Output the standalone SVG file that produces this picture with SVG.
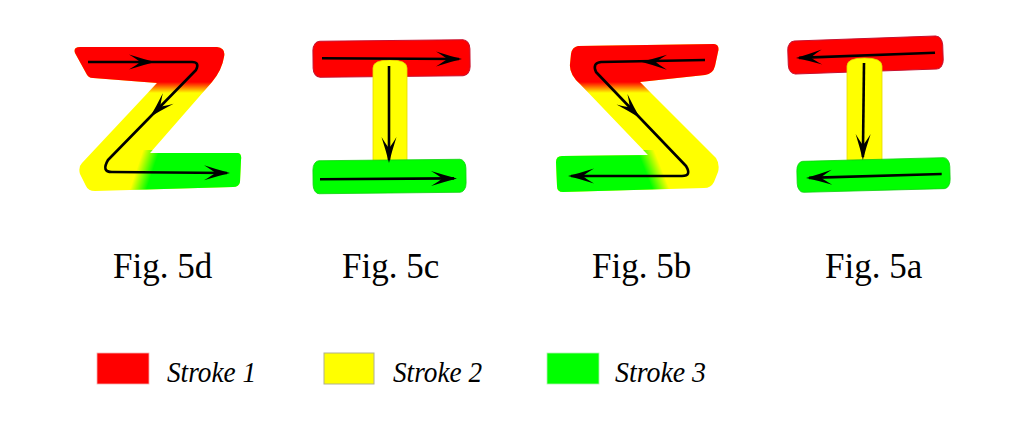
<svg xmlns="http://www.w3.org/2000/svg" xmlns:xlink="http://www.w3.org/1999/xlink" width="1024" height="429" viewBox="0 0 1024 429">
<style>
.fig{font-family:"Liberation Serif","Times New Roman",serif;font-size:35px;fill:#000}
.leg{font-family:"Liberation Serif","Times New Roman",serif;font-size:30px;font-style:italic;fill:#000}
.arr{fill:none;stroke:#000;stroke-width:2.6;stroke-linejoin:round;marker-end:url(#ah)}
.red{fill:#ff0000;stroke:#c8102e;stroke-width:1}
.yel{fill:#ffff00;stroke:#e6d800;stroke-width:0.8}
.grn{fill:#00ff00;stroke:#10d010;stroke-width:0.8}
</style>
<defs>
<path id="head" d="M0,0 Q-12,-3 -26,-7.5 Q-17,-2 -15,0 Q-17,2 -26,7.5 Q-12,3 0,0 Z" fill="#000"/>
<marker id="ah" markerUnits="userSpaceOnUse" viewBox="-30 -10 40 20" refX="-3" refY="0" markerWidth="40" markerHeight="20" orient="auto" overflow="visible">
<use href="#head"/>
</marker>
<clipPath id="clipZ">
<path d="M80,47 L217,47 Q226,48 224,57 Q222,70 212,82 L150,153 L238,153 Q242,154 241,160 L240,182 Q239,187 233,187 L95,191 Q88,191 86,186 L80,174 Q78,167 82,163 L157,83 L93,78 Q88,78 86,73 L75,53 Q73,47 80,47 Z"/>
</clipPath>
<clipPath id="clipS">
<path d="M578,46 L714,44 Q720,45 718,52 L715,66 Q713,74 705,75 L640,82 L716,158 Q720,164 718,172 L714,182 Q711,188 704,188 L563,192 Q557,192 557,186 L556,162 Q556,156 562,156 L648,155 L580,84 Q569,74 570,64 L571,54 Q572,47 578,46 Z"/>
</clipPath>
<linearGradient id="redFade" gradientUnits="userSpaceOnUse" x1="0" y1="82" x2="0" y2="93">
<stop offset="0" stop-color="#ff0000" stop-opacity="1"/>
<stop offset="1" stop-color="#ff0000" stop-opacity="0"/>
</linearGradient>
<linearGradient id="greenD" gradientUnits="userSpaceOnUse" x1="137" y1="168" x2="152" y2="173">
<stop offset="0" stop-color="#00ff00" stop-opacity="0"/>
<stop offset="1" stop-color="#00ff00" stop-opacity="1"/>
</linearGradient>
<linearGradient id="greenB" gradientUnits="userSpaceOnUse" x1="661" y1="167" x2="646" y2="173">
<stop offset="0" stop-color="#00ff00" stop-opacity="0"/>
<stop offset="1" stop-color="#00ff00" stop-opacity="1"/>
</linearGradient>
</defs>
<rect width="1024" height="429" fill="#fff"/>

<g id="fig5d" clip-path="url(#clipZ)">
<rect x="60" y="40" width="200" height="160" fill="#ffff00"/>
<rect x="60" y="40" width="200" height="60" fill="url(#redFade)"/>
<rect x="60" y="150" width="200" height="50" fill="url(#greenD)"/>
</g>

<g id="fig5c">
<rect x="313" y="40.5" width="157" height="36" rx="7" ry="9" class="red" transform="rotate(-0.6 391 58)"/>
<path d="M373,163 L373,68 Q373,60 390,60 Q407,60 407,68 L407,163 Z" class="yel"/>
<rect x="313" y="160" width="153" height="33" rx="6" ry="9" class="grn" transform="rotate(-0.6 390 176)"/>
</g>

<g id="fig5b" clip-path="url(#clipS)">
<rect x="550" y="40" width="180" height="160" fill="#ffff00"/>
<rect x="550" y="40" width="180" height="60" fill="url(#redFade)"/>
<rect x="550" y="150" width="180" height="50" fill="url(#greenB)"/>
</g>

<g id="fig5a">
<rect x="788" y="38.5" width="155" height="33" rx="7" ry="9" class="red" transform="rotate(-2 866 55)"/>
<path d="M847,160 L847,66 Q847,58 864.5,58 Q882,58 882,66 L882,160 Z" class="yel"/>
<rect x="797" y="159.5" width="153" height="31" rx="6" ry="9" class="grn" transform="rotate(-1.5 873 175)"/>
</g>

<g id="arrows">
<path class="arr" d="M88,62 L192,62 Q200,62 196,70 L108,160 Q101,172 112,172 L227,173"/>
<use href="#head" transform="translate(155,62)"/>
<use href="#head" transform="translate(150,117) rotate(134.4)"/>
<path class="arr" d="M322,58.3 L459,59"/>
<path class="arr" d="M389,66 L389,160"/>
<path class="arr" d="M320,179.3 L454,178.4"/>
<path class="arr" d="M705,60 L601,62 Q592,63 596,72 L686,166 Q692,176 682,176 L571,176"/>
<use href="#head" transform="translate(641,61.7) rotate(181)"/>
<use href="#head" transform="translate(640,118) rotate(46.2)"/>
<path class="arr" d="M935,52.7 L799,57.9"/>
<path class="arr" d="M864,63 L862.9,157"/>
<path class="arr" d="M941.7,174 L809,177.9"/>
</g>

<g id="labels">
<text class="fig" x="113" y="278">Fig. 5d</text>
<text class="fig" x="342" y="278">Fig. 5c</text>
<text class="fig" x="592" y="278">Fig. 5b</text>
<text class="fig" x="825" y="278">Fig. 5a</text>
</g>

<g id="legend">
<rect x="97" y="353" width="52" height="31" fill="#ff0000" stroke="#f4b0b0" stroke-width="0.8"/>
<text class="leg" x="167" y="382" textLength="89" lengthAdjust="spacingAndGlyphs">Stroke 1</text>
<rect x="324" y="353" width="50" height="31" fill="#ffff00" stroke="#b0b090" stroke-width="1"/>
<text class="leg" x="393" y="382" textLength="89" lengthAdjust="spacingAndGlyphs">Stroke 2</text>
<rect x="547" y="353" width="52" height="31" fill="#00ff00" stroke="#b0f0b0" stroke-width="0.8"/>
<text class="leg" x="615" y="382" textLength="91" lengthAdjust="spacingAndGlyphs">Stroke 3</text>
</g>
</svg>
